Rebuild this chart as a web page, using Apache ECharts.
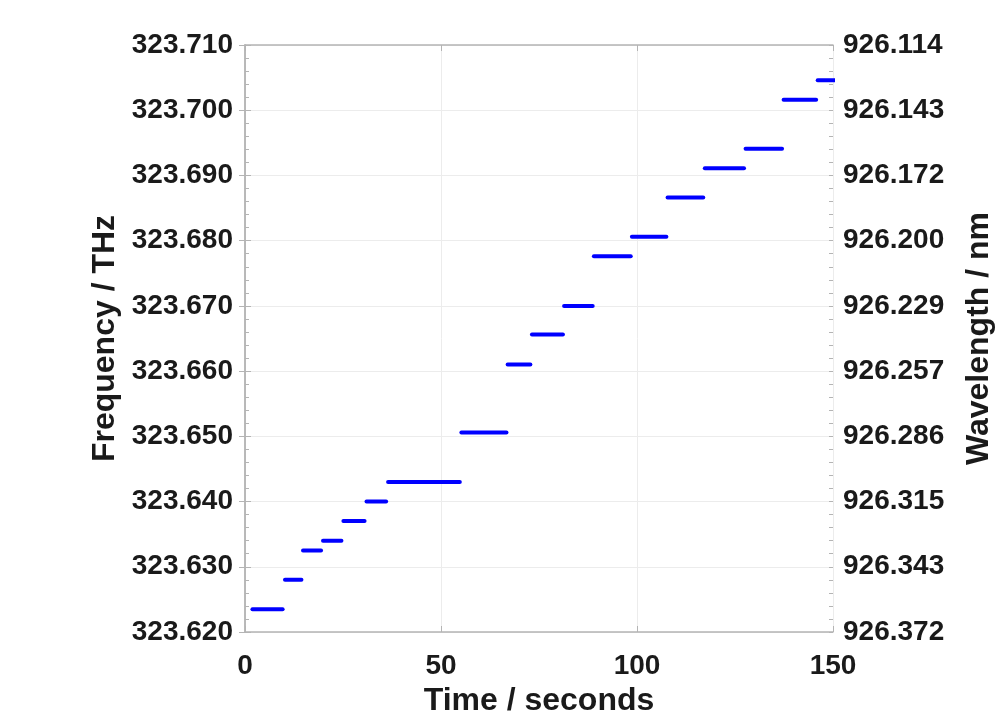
<!DOCTYPE html>
<html>
<head>
<meta charset="utf-8">
<script src="https://cdn.jsdelivr.net/npm/echarts@6/dist/echarts.min.js"></script>
<style>
html, body { margin: 0; padding: 0; background: #fff; }
#chart { width: 997px; height: 714px; }
</style>
</head>
<body>
<div id="chart"></div>
<script>
// step segments: start time, end time, frequency (THz)
var segStart = [1.9, 10.2, 14.8, 19.9, 25.1, 31.0, 36.5, 55.2, 67.0, 73.2, 81.4, 89.0, 98.7, 107.8, 117.3, 127.7, 137.4, 146.1];
var segEnd = [9.6, 14.4, 19.4, 24.6, 30.5, 36.0, 54.8, 66.7, 72.8, 81.1, 88.7, 98.4, 107.5, 116.9, 127.3, 137.0, 145.7, 150.5];
var segFreq = [323.6235, 323.628, 323.6325, 323.634, 323.637, 323.640, 323.643, 323.6506, 323.661, 323.6656,
  323.670, 323.6776, 323.6806, 323.6866, 323.6911, 323.6941, 323.7016, 323.7046];

// tick labels, bottom to top
var freqLabels = ['323.620', '323.630', '323.640', '323.650', '323.660', '323.670', '323.680', '323.690', '323.700', '323.710'];
var waveLabels = ['926.372', '926.343', '926.315', '926.286', '926.257', '926.229', '926.200', '926.172', '926.143', '926.114'];

var myChart = echarts.init(document.getElementById('chart'));

var axisColor = '#b4b4b4';
var gridColor = '#ececec';
var labelFont = {
  color: '#1a1a1a',
  fontSize: 28,
  fontWeight: 'bold',
  fontFamily: 'Liberation Sans, Arial, sans-serif'
};
var nameFont = {
  color: '#1a1a1a',
  fontSize: 32,
  fontWeight: 'bold',
  fontFamily: 'Liberation Sans, Arial, sans-serif'
};

var series = segFreq.map(function(f, i) {
  return {
    type: 'line',
    xAxisIndex: 0,
    yAxisIndex: 0,
    showSymbol: false,
    silent: true,
    data: [[segStart[i], f], [segEnd[i], f]],
    lineStyle: {
      color: '#0000ff',
      width: 4,
      cap: 'round'
    }
  };
});

function yAxisBase(pos, labels, name, gap) {
  return {
    type: 'value',
    position: pos,
    min: 323.62,
    max: 323.71,
    interval: 0.01,
    name: name,
    nameLocation: 'middle',
    nameRotate: 90,
    nameGap: gap,
    nameTextStyle: nameFont,
    axisLine: { show: true, lineStyle: { color: axisColor, width: 1.5 } },
    axisTick: { show: true, inside: true, length: 6, lineStyle: { color: axisColor } },
    splitLine: { show: pos === 'left', lineStyle: { color: gridColor, width: 1 } },
    axisLabel: Object.assign({
      margin: pos === 'left' ? 12 : 10,
      formatter: function(v, i) { return labels[i]; }
    }, labelFont)
  };
}

// small inner ticks every 0.002 THz
function yMinorAxis(pos) {
  return {
    type: 'value',
    position: pos,
    min: 323.62,
    max: 323.71,
    interval: 0.002,
    axisLine: { show: false },
    axisTick: { show: true, inside: true, length: 4, lineStyle: { color: axisColor } },
    splitLine: { show: false },
    axisLabel: { show: false }
  };
}

var option = {
  animation: false,
  backgroundColor: '#fff',
  grid: {
    left: 245,
    right: 164,
    top: 45,
    bottom: 82,
    outerBoundsMode: 'none'
  },
  xAxis: [{
    type: 'value',
    min: 0,
    max: 150,
    interval: 50,
    name: 'Time / seconds',
    nameLocation: 'middle',
    nameGap: 51,
    nameTextStyle: nameFont,
    axisLine: { show: true, lineStyle: { color: axisColor, width: 1.5 } },
    axisTick: { show: true, inside: true, length: 6, lineStyle: { color: axisColor } },
    splitLine: { show: true, lineStyle: { color: gridColor, width: 1 } },
    axisLabel: Object.assign({ margin: 20 }, labelFont)
  }, {
    type: 'value',
    position: 'top',
    min: 0,
    max: 150,
    interval: 50,
    axisLine: { show: true, lineStyle: { color: axisColor, width: 1.5 } },
    axisTick: { show: true, inside: true, length: 6, lineStyle: { color: axisColor } },
    splitLine: { show: false },
    axisLabel: { show: false }
  }],
  yAxis: [
    yAxisBase('left', freqLabels, 'Frequency / THz', 124),
    yAxisBase('right', waveLabels, 'Wavelength / nm', 130),
    yMinorAxis('left'),
    yMinorAxis('right')
  ],
  series: series
};
myChart.setOption(option);
</script>
</body>
</html>
